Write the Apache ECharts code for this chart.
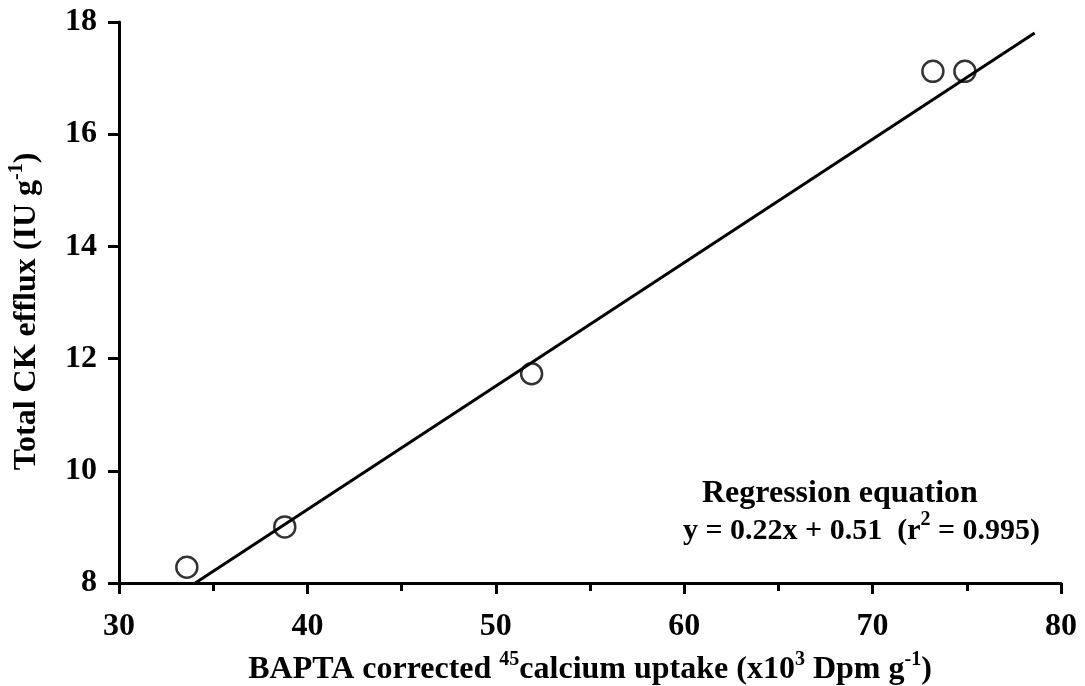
<!DOCTYPE html>
<html>
<head>
<meta charset="utf-8">
<script src="https://cdn.jsdelivr.net/npm/echarts@6/dist/echarts.min.js"></script>
<style>
  html, body { margin: 0; padding: 0; background: #fff; }
  #chart { width: 1085px; height: 686px; }
</style>
</head>
<body>
<div id="chart"></div>
<script>
// Measured points: calcium uptake vs. total CK efflux
const uptake = [33.6, 38.8, 51.9, 73.2, 74.9];
const efflux = [8.28, 9.0, 11.73, 17.12, 17.12];

// Fitted regression (as reported): y = 0.22x + 0.51
const slope = 0.22;
const intercept = 0.51;
const fitRangeX = [34.05, 78.6];

// Axis ticks
const xTicks = { min: 30, max: 80, interval: 10 };
const yTicks = { min: 8, max: 18, interval: 2 };

const fitLine = fitRangeX.map(x => [x, slope * x + intercept]);
const points = uptake.map((x, i) => [x, efflux[i]]);

const FONT = '"Liberation Serif", "Times New Roman", serif';
const INK = '#000';

// Rich styles for titles with superscripts
const richTitle = {
  t: { fontFamily: FONT, fontWeight: 'bold', fontSize: 32, color: INK, verticalAlign: 'bottom', lineHeight: 36 },
  s: { fontFamily: FONT, fontWeight: 'bold', fontSize: 20, color: INK, verticalAlign: 'top', lineHeight: 36, padding: [0, 0, 14, 0] }
};

const chart = echarts.init(document.getElementById('chart'), null, { renderer: 'canvas' });

chart.setOption({
  animation: false,
  backgroundColor: '#fff',
  grid: { left: 119, right: 24, top: 22, bottom: 103, containLabel: false, outerBoundsMode: 'none' },
  xAxis: {
    type: 'value',
    min: xTicks.min, max: xTicks.max, interval: xTicks.interval,
    axisLine: { show: true, onZero: false, lineStyle: { color: INK, width: 3 } },
    axisTick: { show: true, inside: false, length: 11, lineStyle: { color: INK, width: 3 } },
    minorTick: { show: true, splitNumber: 2, length: 8, lineStyle: { color: INK, width: 3 } },
    splitLine: { show: false },
    axisLabel: { margin: 28, color: INK, fontFamily: FONT, fontWeight: 'bold', fontSize: 32 },
    name: '{t|BAPTA corrected }{s|45}{t|calcium uptake (x10}{s|3}{t| Dpm g}{s|-1}{t|)}',
    nameLocation: 'middle',
    nameGap: 67,
    nameTextStyle: { rich: richTitle }
  },
  yAxis: {
    type: 'value',
    min: yTicks.min, max: yTicks.max, interval: yTicks.interval,
    axisLine: { show: true, onZero: false, lineStyle: { color: INK, width: 3 } },
    axisTick: { show: true, inside: false, length: 11, lineStyle: { color: INK, width: 3 } },
    splitLine: { show: false },
    axisLabel: { margin: 22, color: INK, fontFamily: FONT, fontWeight: 'bold', fontSize: 32 },
    name: '{t|Total CK efflux (IU g}{s|-1}{t|)}',
    nameLocation: 'middle',
    nameGap: 76,
    nameRotate: 90,
    nameTextStyle: { rich: richTitle, padding: [0, 18, 0, 0] }
  },
  series: [
    {
      name: 'fit',
      type: 'line',
      data: fitLine,
      showSymbol: false,
      symbol: 'none',
      lineStyle: { color: INK, width: 3 },
      z: 3
    },
    {
      name: 'measured',
      type: 'scatter',
      data: points,
      symbol: 'circle',
      symbolSize: 21,
      itemStyle: { color: 'rgba(0,0,0,0)', borderColor: INK, borderWidth: 2.5 },
      z: 4
    }
  ],
  graphic: [
    {
      type: 'text',
      left: 702, top: 478,
      style: {
        text: 'Regression equation',
        fontFamily: FONT, fontWeight: 'bold', fontSize: 32, fill: INK
      }
    },
    {
      type: 'text',
      left: 683, top: 510,
      style: {
        text: '{t|y = 0.22x + 0.51  (r}{s|2}{t| = 0.995)}',
        rich: {
          t: { fontFamily: FONT, fontWeight: 'bold', fontSize: 30, fill: INK, verticalAlign: 'bottom', lineHeight: 36 },
          s: { fontFamily: FONT, fontWeight: 'bold', fontSize: 20, fill: INK, verticalAlign: 'top', lineHeight: 36, padding: [0, 0, 14, 0] }
        }
      }
    }
  ]
});
</script>
</body>
</html>
